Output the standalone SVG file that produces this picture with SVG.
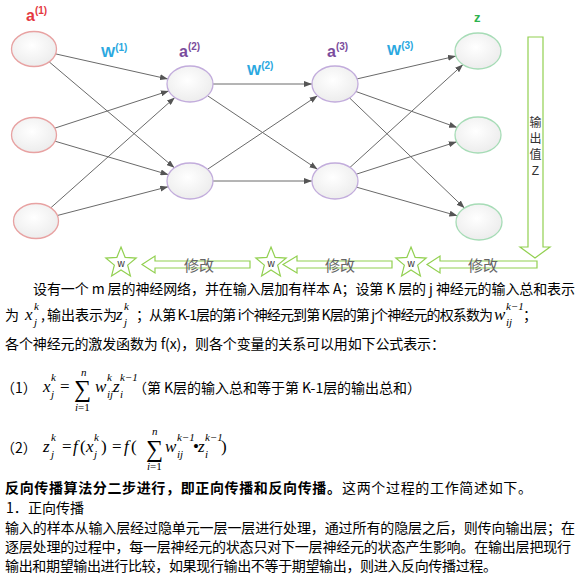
<svg xmlns="http://www.w3.org/2000/svg" width="579" height="580" viewBox="0 0 579 580">
<style>
.nr{stroke:#e8a2a2;stroke-width:1.3;fill:url(#g)}
.np{stroke:#c2acdc;stroke-width:1.3;fill:url(#g)}
.ng{stroke:#a6dcb6;stroke-width:1.3;fill:url(#g)}
.e{stroke:#6a6a6a;stroke-width:1;fill:none;marker-end:url(#ah)}
.lab{font-family:"Liberation Sans",Arial,sans-serif;font-weight:bold}
.sup{font-size:10px}
.gr{fill:#fff;stroke:#92d050;stroke-width:1.2}
.cn{font-family:"Noto Sans CJK SC","Liberation Sans",sans-serif;font-size:14px;fill:#000}
.mod{font-family:"Noto Sans CJK SC",sans-serif;font-size:15px;fill:#666;text-anchor:middle}
.w{font-family:"Liberation Sans",sans-serif;font-size:10px;fill:#333;text-anchor:middle}
.m{font-family:"Liberation Serif","Times New Roman",serif;font-style:italic;font-size:17px;fill:#000}
.ms{font-family:"Liberation Serif",serif;font-style:italic;font-size:11px;fill:#000}
.mn{font-family:"Liberation Serif",serif;font-size:17px;fill:#000}
.sig{font-family:"Liberation Serif",serif;font-size:24px;fill:#000}
</style>
<defs>
<radialGradient id="g" cx="0.45" cy="0.4" r="0.65">
<stop offset="0" stop-color="#ffffff"/>
<stop offset="1" stop-color="#ebebeb"/>
</radialGradient>
<marker id="ah" markerUnits="userSpaceOnUse" markerWidth="8" markerHeight="6" refX="8" refY="3" orient="auto">
<path d="M0,0 L8,3 L0,6 z" fill="#555"/>
</marker>
<polygon id="star" points="0,-16 4.11,-5.66 15.22,-4.94 6.66,2.16 9.40,12.94 0,7 -9.40,12.94 -6.66,2.16 -15.22,-4.94 -4.11,-5.66"/>
</defs>
<rect width="579" height="580" fill="#fff"/>

<g id="connectors">
<line class="e" x1="55.6" y1="53.9" x2="167.9" y2="79"/>
<line class="e" x1="49.2" y1="61.9" x2="174.4" y2="167.8"/>
<line class="e" x1="54.7" y1="128.2" x2="168.8" y2="90.9"/>
<line class="e" x1="55" y1="141.2" x2="168.5" y2="174.7"/>
<line class="e" x1="50.8" y1="207.8" x2="174.8" y2="97.5"/>
<line class="e" x1="57.3" y1="215.5" x2="168.2" y2="186.7"/>
<line class="e" x1="213" y1="84" x2="312" y2="84"/>
<line class="e" x1="207.5" y1="95.7" x2="317.5" y2="169.3"/>
<line class="e" x1="207.5" y1="169.3" x2="317.5" y2="95.7"/>
<line class="e" x1="213" y1="181" x2="312" y2="181"/>
<line class="e" x1="357.1" y1="78.9" x2="455.9" y2="56.1"/>
<line class="e" x1="355.9" y1="91.5" x2="457.1" y2="127.5"/>
<line class="e" x1="349.5" y1="97.9" x2="464.5" y2="208.1"/>
<line class="e" x1="350" y1="167.4" x2="463" y2="64.6"/>
<line class="e" x1="356.3" y1="174.2" x2="456.7" y2="141.8"/>
<line class="e" x1="356.6" y1="187.2" x2="457.4" y2="215.8"/>
<path class="gr" d="M528,37 L543,37 L543,247 L550,247 L535,258 L520,247 L528,247 Z"/>
<path class="gr" d="M142,264.5 L155,256 L155,261 L250,261 L250,268 L155,268 L155,273 Z"/>
<path class="gr" d="M283,264.5 L297,256 L297,261 L392,261 L392,268 L297,268 L297,273 Z"/>
<path class="gr" d="M427,264.5 L440,256 L440,261 L537,261 L537,268 L440,268 L440,273 Z"/>
<g font-family="Noto Sans CJK SC,sans-serif" font-size="12" fill="#333" text-anchor="middle">
<text x="535.5" y="127">输</text>
<text x="535.5" y="143">出</text>
<text x="535.5" y="159">值</text>
<text x="535.5" y="175" font-family="Liberation Sans,sans-serif">Z</text>
</g>
<text class="mod" x="199" y="271">修改</text>
<text class="mod" x="340" y="271">修改</text>
<text class="mod" x="483" y="271">修改</text>
</g>

<g id="l1n1"><ellipse class="nr" cx="34" cy="49" rx="22.5" ry="17.5"/></g>
<g id="l1n2"><ellipse class="nr" cx="34" cy="135" rx="22.5" ry="17.5"/></g>
<g id="l1n3"><ellipse class="nr" cx="36" cy="221" rx="22.5" ry="17.5"/></g>
<g id="l2n1"><ellipse class="np" cx="190" cy="84" rx="23" ry="18"/></g>
<g id="l2n2"><ellipse class="np" cx="190" cy="181" rx="23" ry="18"/></g>
<g id="l3n1"><ellipse class="np" cx="335" cy="84" rx="23" ry="18"/></g>
<g id="l3n2"><ellipse class="np" cx="335" cy="181" rx="23" ry="18"/></g>
<g id="l4n1"><ellipse class="ng" cx="478" cy="51" rx="23" ry="18"/></g>
<g id="l4n2"><ellipse class="ng" cx="478" cy="135" rx="23" ry="18"/></g>
<g id="l4n3"><ellipse class="ng" cx="479" cy="222" rx="23" ry="18"/></g>

<g id="w1"><use href="#star" x="121" y="263" class="gr"/><text class="w" x="121" y="267">w</text></g>
<g id="w2"><use href="#star" x="271" y="263" class="gr"/><text class="w" x="271" y="267">w</text></g>
<g id="w3"><use href="#star" x="411" y="263" class="gr"/><text class="w" x="411" y="267">w</text></g>

<g id="labels" class="lab">
<text x="26" y="21" font-size="16" fill="#e5383f">a<tspan class="sup" dy="-7">(1)</tspan></text>
<text x="101" y="57" font-size="15" fill="#2ba8e0">W<tspan class="sup" dy="-6">(1)</tspan></text>
<text x="179" y="57" font-size="16" fill="#7a4c9c">a<tspan class="sup" dy="-7">(2)</tspan></text>
<text x="247" y="75" font-size="15" fill="#2ba8e0">W<tspan class="sup" dy="-6">(2)</tspan></text>
<text x="327" y="57" font-size="16" fill="#7a4c9c">a<tspan class="sup" dy="-7">(3)</tspan></text>
<text x="387" y="55" font-size="15" fill="#2ba8e0">W<tspan class="sup" dy="-6">(3)</tspan></text>
<text x="474" y="22" font-size="13" fill="#2eb34e">z</text>
</g>

<g id="body">
<text class="cn" x="33" y="294" textLength="542" lengthAdjust="spacing">设有一个 m 层的神经网络，并在输入层加有样本 A；设第 K 层的 j 神经元的输入总和表示</text>
<text class="cn" x="5" y="320">为</text>
<text class="m" x="25" y="320">x</text><text class="ms" x="34" y="310">k</text><text class="ms" x="34" y="326">j</text>
<text class="cn" x="41" y="320">,</text>
<text class="cn" x="47" y="320" font-size="12">输出表示为</text>
<text class="m" x="116" y="320">z</text><text class="ms" x="124" y="310">k</text><text class="ms" x="124" y="326">j</text>
<text class="cn" x="136" y="320" font-size="13.5" textLength="357" lengthAdjust="spacing">；从第 K-1层的第 i个神经元到第 K层的第 j个神经元的权系数为</text>
<text class="m" x="494" y="320">w</text><text class="ms" x="506" y="310" font-size="10">k−1</text><text class="ms" x="506" y="326">ij</text>
<text class="cn" x="523" y="320">；</text>
<text class="cn" x="5" y="349" textLength="440" lengthAdjust="spacing">各个神经元的激发函数为 f(x)，则各个变量的关系可以用如下公式表示：</text>

<text class="cn" x="1" y="393">（1）</text>
<text class="m" x="43" y="392">x</text><text class="ms" x="51" y="381">k</text><text class="ms" x="51" y="398">j</text>
<text class="mn" x="60" y="392">=</text>
<text class="sig" x="74" y="397">∑</text>
<text class="ms" x="81" y="376" font-size="10">n</text>
<text class="ms" x="75" y="411" font-size="10">i<tspan font-style="normal">=1</tspan></text>
<text class="m" x="95" y="392">w</text><text class="ms" x="107" y="381">k</text><text class="ms" x="107" y="398">ij</text>
<text class="m" x="113" y="392">z</text><text class="ms" x="120" y="381" font-size="10">k−1</text><text class="ms" x="120" y="398">i</text>
<text class="cn" x="133" y="393" textLength="288" lengthAdjust="spacing">（第 K层的输入总和等于第 K-1层的输出总和）</text>

<text class="cn" x="1" y="453">（2）</text>
<text class="m" x="43" y="452">z</text><text class="ms" x="51" y="441">k</text><text class="ms" x="51" y="458">j</text>
<text class="mn" x="62" y="452">=</text>
<text class="m" x="73" y="452">f</text><text class="mn" x="80" y="452">(</text>
<text class="m" x="86" y="452">x</text><text class="ms" x="94" y="441">k</text><text class="ms" x="94" y="458">j</text>
<text class="mn" x="101" y="452">)</text>
<text class="mn" x="112" y="452">=</text>
<text class="m" x="124" y="452">f</text><text class="mn" x="131" y="452">(</text>
<text class="sig" x="146" y="457">∑</text>
<text class="ms" x="152" y="435" font-size="10">n</text>
<text class="ms" x="147" y="470" font-size="10">i<tspan font-style="normal">=1</tspan></text>
<text class="m" x="165" y="452">w</text><text class="ms" x="177" y="441" font-size="10">k−1</text><text class="ms" x="177" y="458">ij</text>
<text class="mn" x="193" y="452" font-size="12">•</text>
<text class="m" x="198" y="452">z</text><text class="ms" x="205" y="441" font-size="10">k−1</text><text class="ms" x="205" y="458">i</text>
<text class="mn" x="221" y="452">)</text>

<text class="cn" x="5" y="493" font-weight="bold" textLength="336" lengthAdjust="spacing">反向传播算法分二步进行，即正向传播和反向传播。</text>
<text class="cn" x="342" y="493" textLength="190" lengthAdjust="spacing">这两个过程的工作简述如下。</text>
<text class="cn" x="6" y="513">1．</text>
<text class="cn" x="28" y="513" textLength="56" lengthAdjust="spacing">正向传播</text>
<text class="cn" x="5" y="533" textLength="570" lengthAdjust="spacing">输入的样本从输入层经过隐单元一层一层进行处理，通过所有的隐层之后，则传向输出层；在</text>
<text class="cn" x="5" y="552" textLength="566" lengthAdjust="spacing">逐层处理的过程中，每一层神经元的状态只对下一层神经元的状态产生影响。在输出层把现行</text>
<text class="cn" x="5" y="571" textLength="492" lengthAdjust="spacing">输出和期望输出进行比较，如果现行输出不等于期望输出，则进入反向传播过程。</text>
</g>
</svg>
